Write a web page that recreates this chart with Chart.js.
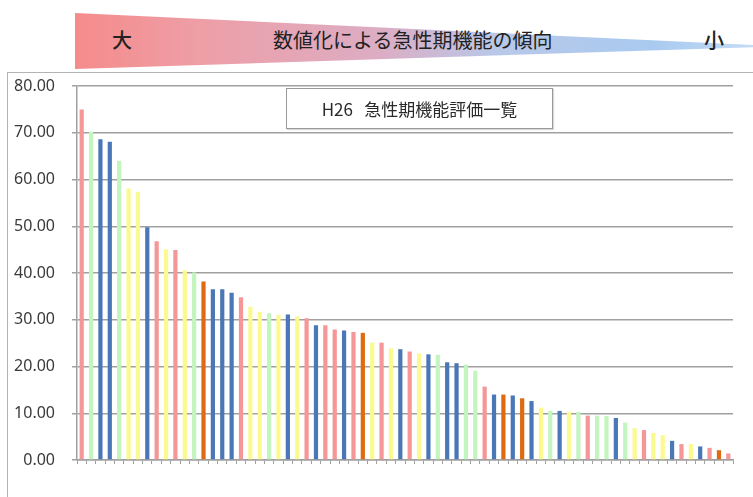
<!DOCTYPE html>
<html lang="ja">
<head>
<meta charset="utf-8">
<title>H26 急性期機能評価一覧</title>
<script src="https://cdn.jsdelivr.net/npm/chart.js@4.4.0/dist/chart.umd.min.js"></script>
<style>
  html, body { margin: 0; padding: 0; background: #fff; }
  body { width: 753px; height: 497px; position: relative; overflow: hidden; font-family: "Noto Sans CJK JP", "Noto Sans", sans-serif; }
  .wedge {
    position: absolute; left: 75px; top: 13px; width: 678px; height: 56px;
    background: linear-gradient(to right, #f58b8b 0%, #ee9ea6 18%, #dcadc4 45%, #b9c8e8 62%, #a9caf0 85%, #c4dbf5 100%);
    clip-path: polygon(0 0, 100% 57%, 100% 61%, 0 100%);
  }
  .wedge-text { position: absolute; top: 27px; font-size: 20px; color: #222; line-height: 26px; white-space: nowrap; }
  .frame { position: absolute; left: 7px; top: 72px; width: 800px; height: 500px; border: 1px solid #b4b4b4; }
  .chart-wrap { position: absolute; left: 0; top: 0; width: 753px; height: 497px; }
  .title-box {
    position: absolute; left: 286px; top: 88px; width: 265px; height: 39px;
    border: 1px solid #9a9a9a; background: #fff; box-shadow: 1px 1px 1px rgba(0,0,0,0.15);
    font-size: 17px; color: #2a2a2a; text-align: center; line-height: 39px; white-space: pre;
  }
</style>
</head>
<body>
  <div class="wedge"></div>
  <div class="wedge-text" style="left:112px;font-weight:500">大</div>
  <div class="wedge-text" style="left:273px">数値化による急性期機能の傾向</div>
  <div class="wedge-text" style="left:704px;font-weight:500">小</div>
  <div class="frame"></div>
  <div class="chart-wrap"><canvas id="c"></canvas></div>
  <div class="title-box">H26   急性期機能評価一覧</div>

<script>
  // evaluation score per hospital, sorted high to low
  const scores = [
    75.0, 70.2, 68.6, 68.1, 64.0, 58.1, 57.4, 49.8, 46.8, 45.1,
    44.9, 40.6, 40.1, 38.2, 36.5, 36.5, 35.8, 34.8, 32.8, 31.7,
    31.4, 31.0, 31.1, 30.7, 30.3, 28.8, 28.8, 27.9, 27.7, 27.4,
    27.2, 25.1, 25.1, 23.9, 23.7, 23.2, 22.8, 22.6, 22.5, 20.9,
    20.7, 20.4, 19.1, 15.7, 14.0, 14.0, 13.8, 13.2, 12.6, 11.2,
    10.5, 10.5, 10.3, 10.3, 9.5, 9.5, 9.4, 9.0, 8.0, 6.8,
    6.4, 5.8, 5.3, 4.1, 3.4, 3.4, 2.9, 2.6, 2.1, 1.4
  ];
  // hospital group for each bar (A..E)
  const groups = [
    'A','B','C','C','B','D','D','C','A','D',
    'A','D','B','E','C','C','C','A','D','D',
    'B','D','C','D','A','C','A','A','C','A',
    'E','D','A','D','C','A','D','C','B','C',
    'C','B','B','A','C','E','C','E','C','D',
    'B','C','D','B','A','B','B','C','B','D',
    'A','D','D','C','A','D','C','A','E','A'
  ];
  const yTicks = [0, 10, 20, 30, 40, 50, 60, 70, 80];
  const hospitals = scores.map((_, i) => String(i + 1));

  const groupColor = { A: '#f69797', B: '#c3f5bf', C: '#4a77b6', D: '#fafa90', E: '#df6a12' };
  const gridGray = '#a0a0a0';

  new Chart(document.getElementById('c'), {
    type: 'bar',
    data: {
      labels: hospitals,
      datasets: [{
        data: scores,
        backgroundColor: groups.map(g => groupColor[g]),
        categoryPercentage: 1,
        barPercentage: 0.45
      }]
    },
    options: {
      responsive: true,
      maintainAspectRatio: false,
      animation: false,
      layout: { padding: { top: 86, right: 20, left: 0, bottom: 0 } },
      plugins: { legend: { display: false }, tooltip: { enabled: false } },
      scales: {
        x: {
          grid: { display: true, drawOnChartArea: false, drawTicks: true, tickLength: 4, color: gridGray, offset: true },
          border: { display: true, color: gridGray, width: 1.5 },
          ticks: { display: false },
          afterFit: (s) => { s.height = 37; }
        },
        y: {
          min: yTicks[0],
          max: yTicks[yTicks.length - 1],
          afterBuildTicks: (s) => { s.ticks = yTicks.map(v => ({ value: v })); },
          grid: { color: gridGray, lineWidth: 1.5, tickLength: 5 },
          border: { display: true, color: gridGray, width: 1.5 },
          ticks: {
            padding: 17,
            color: '#3a3a3a',
            font: { family: 'Noto Sans', size: 16 },
            callback: (v) => Number(v).toFixed(2)
          },
          afterFit: (s) => { s.width = 77; }
        }
      }
    }
  });
</script>
</body>
</html>
